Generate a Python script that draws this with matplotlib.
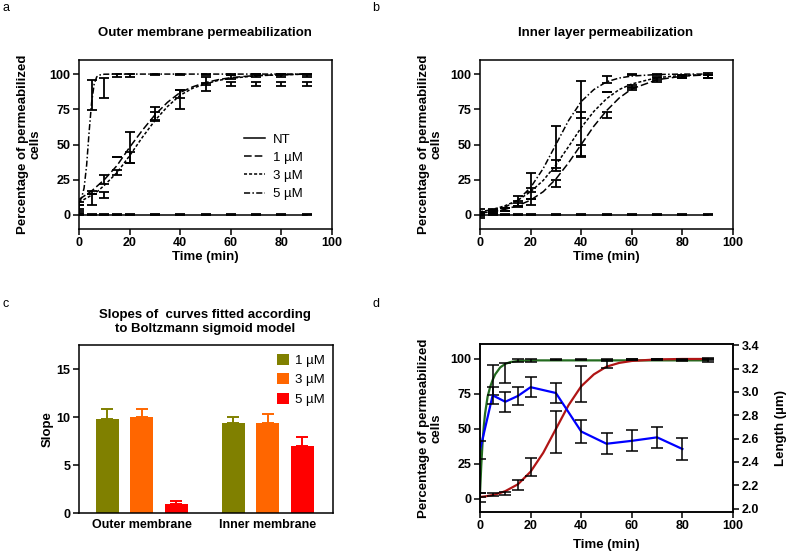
import matplotlib
matplotlib.use("Agg")
import matplotlib.pyplot as plt
from matplotlib.ticker import FormatStrFormatter

plt.rcParams['font.family'] = ['Liberation Sans', 'DejaVu Sans']
plt.rcParams['font.weight'] = 'bold'
plt.rcParams['axes.labelweight'] = 'bold'
plt.rcParams['font.size'] = 9

# Data

# sampling times (min)
t = [0, 5, 10, 15, 20, 30, 40, 50, 60, 70, 80, 90]

# a: outer membrane permeabilization, mean and error
outer_nt = [0, 0, 0, 0, 0, 0, 0, 0, 0, 0, 0, 0]
outer_nt_err = [0.4, 0.4, 0.4, 0.4, 0.4, 0.4, 0.4, 0.4, 0.4, 0.4, 0.4, 0.4]
outer_1 = [8, 16, 25, 41, 48, 72, 86, 95, 98, 99, 99, 99]
outer_1_err = [1, 1, 3, 0, 11, 4.5, 3, 3, 1.5, 1, 1, 1]
outer_3 = [5, 11, 14, 30, 41, 70, 82, 91, 93, 93, 93, 93]
outer_3_err = [2, 4, 2, 2, 4, 3, 7, 3, 1.5, 1.5, 1.5, 1.5]
outer_5 = [3, 85, 90, 99, 99, 99.5, 99.5, 99.5, 99.5, 99.5, 99.5, 99.5]
outer_5_err = [1.5, 10.5, 7, 1, 1, 0.5, 0.5, 0.5, 0.5, 0.5, 0.5, 0.5]

# b: inner layer permeabilization, mean and error
inner_nt = [0, 0, 0, 0, 0, 0, 0, 0, 0, 0, 0, 0]
inner_nt_err = [0.4, 0.4, 0.4, 0.4, 0.4, 0.4, 0.4, 0.4, 0.4, 0.4, 0.4, 0.4]
inner_1 = [0.5, 2, 4, 7, 9, 22, 46, 71, 90, 96, 98, 98.5]
inner_1_err = [1, 1, 1, 1.5, 2, 2.5, 4, 2, 1, 1.5, 1, 1]
inner_3 = [1, 2.5, 4, 8, 15, 35, 57, 87, 91, 97, 98, 98.5]
inner_3_err = [1, 1, 1, 2, 4, 4, 16, 0, 1, 1, 1, 1]
inner_5 = [1, 3, 4, 10, 23, 48, 82, 96, 99.5, 99.5, 99, 99]
inner_5_err = [3, 1, 1, 3.5, 6.5, 15, 13, 2.5, 0.5, 0.5, 0.5, 1.5]

# fitted sigmoid curves
t_fit = [0, 2.5, 5, 7.5, 10, 15, 20, 25, 30, 35, 40, 45, 50, 55, 60, 70, 80, 90]
outer_fit_1 = [11, 14, 17, 21, 25, 35, 48, 60, 71, 80, 87, 91, 94, 96, 97.5, 99, 99.5, 100]
outer_fit_3 = [9, 11.5, 14, 17, 21, 30, 42, 55, 67, 77, 85, 90, 93, 95.5, 97, 98.8, 99.5, 100]
inner_fit_1 = [1.4, 1.8, 2.4, 3.1, 4, 6.6, 10.5, 16.5, 25.5, 37, 50, 63, 74, 83, 89.5, 96, 98.5, 99.5]
inner_fit_3 = [2.3, 3, 4, 5.2, 6.6, 10.5, 16.5, 24.5, 35.5, 48.5, 62, 73.5, 82.5, 89, 93, 97.5, 99, 99.7]
inner_fit_5 = [1.4, 2, 2.8, 4, 5.6, 10.5, 19.5, 33, 50, 67, 80.5, 89, 94.5, 97.2, 98.6, 99.7, 100, 100]

t_fast = [0, 1, 2, 3, 4, 5, 6, 7, 8, 10, 15, 20, 30, 40, 50, 60, 70, 80, 90]
outer_fit_5 = [9, 12, 19, 35, 59, 80, 93, 98, 99.3, 99.9, 100, 100, 100, 100, 100, 100, 100, 100, 100]

# d: fast outer curve and cell length
t_green = [0, 0.5, 1, 1.5, 2, 3, 4, 5, 6, 8, 10, 12, 15, 20, 30, 40, 50, 60, 70, 80, 90]
green_fit = [4, 24, 40, 52, 61, 73, 80, 85, 89, 94, 96.5, 97.8, 98.6, 99, 99, 99, 99, 99, 99, 99, 99]
t_len = [0, 5, 10, 15, 20, 30, 40, 50, 60, 70, 80]
length = [2.50, 2.97, 2.915, 2.965, 3.04, 2.99, 2.66, 2.555, 2.58, 2.61, 2.51]
length_err = [0.075, 0.075, 0.085, 0.08, 0.085, 0.085, 0.095, 0.09, 0.09, 0.09, 0.095]

# c: slopes of Boltzmann fits
groups = ['Outer membrane', 'Inner membrane']
conc = ['1 µM', '3 µM', '5 µM']
slope_1 = [9.8, 9.4]
slope_1_err = [1.0, 0.6]
slope_3 = [10.0, 9.4]
slope_3_err = [0.8, 0.9]
slope_5 = [0.9, 7.0]
slope_5_err = [0.3, 0.9]
bar_colors = ['#808000', '#FF6600', '#FF0000']

W, H = 787, 557


def box(l, tp, r, b):
    return [l / W, 1 - b / H, (r - l) / W, (b - tp) / H]


def style(ax):
    for s in ax.spines.values():
        s.set_linewidth(1.1)
    ax.tick_params(width=1.1, length=4, pad=2, labelsize=9)


fig = plt.figure(figsize=(W / 100, H / 100), dpi=100)

ls_1 = (0, (5, 2))
ls_3 = (0, (2, 1.3))
ls_5 = (0, (4, 1.5, 1, 1.5))
eb = dict(fmt='none', ecolor='black', elinewidth=1.3, capsize=3.5, capthick=1.3)


def perm_panel(ax, fit1, fit3, fit5, t5, d_nt, e_nt, d1, e1, d3, e3, d5, e5, legend):
    ax.plot([t[0], t[-1]], [d_nt[0], d_nt[-1]], color='black', lw=1.1, label='NT')
    ax.plot(t_fit, fit1, color='black', lw=1.1, ls=ls_1, label='1 µM')
    ax.plot(t_fit, fit3, color='black', lw=1.1, ls=ls_3, label='3 µM')
    ax.plot(t5, fit5, color='black', lw=1.1, ls=ls_5, label='5 µM')
    for d, e in [(d_nt, e_nt), (d1, e1), (d3, e3), (d5, e5)]:
        ax.errorbar(t, d, yerr=e, **eb)
    ax.set_xlim(0, 100)
    ax.set_ylim(-10, 110)
    ax.set_xticks([0, 20, 40, 60, 80, 100])
    ax.set_yticks([0, 25, 50, 75, 100])
    ax.set_xlabel('Time (min)', fontsize=9.5)
    ax.set_ylabel('Percentage of permeabilized\ncells', fontsize=9.5, linespacing=1.05)
    ax.yaxis.set_label_coords(-0.15, 0.5)
    ax.xaxis.set_label_coords(0.5, -0.13)
    style(ax)
    if legend:
        ax.legend(loc='lower right', bbox_to_anchor=(0.93, 0.1), frameon=False,
                  prop={'weight': 'normal', 'size': 9.5}, handlelength=1.6,
                  labelspacing=0.45, handletextpad=0.6)


ax_a = fig.add_axes(box(79, 60, 332, 229))
perm_panel(ax_a, outer_fit_1, outer_fit_3, outer_fit_5, t_fast, outer_nt, outer_nt_err,
           outer_1, outer_1_err, outer_3, outer_3_err, outer_5, outer_5_err, True)

ax_b = fig.add_axes(box(480, 60, 733, 229))
perm_panel(ax_b, inner_fit_1, inner_fit_3, inner_fit_5, t_fit, inner_nt, inner_nt_err,
           inner_1, inner_1_err, inner_3, inner_3_err, inner_5, inner_5_err, False)

# c: bars
ax_c = fig.add_axes(box(79, 345, 333, 513))
step = 0.274
width = 0.183
for i, (vals, errs) in enumerate([(slope_1, slope_1_err), (slope_3, slope_3_err), (slope_5, slope_5_err)]):
    xs = [g + (i - 1) * step for g in range(len(groups))]
    ax_c.bar(xs, vals, width=width, color=bar_colors[i], label=conc[i], zorder=2)
    ax_c.errorbar(xs, vals, yerr=[[0] * len(vals), errs], fmt='none', ecolor=bar_colors[i],
                  elinewidth=1.4, capsize=4.5, capthick=1.4, zorder=1)
ax_c.set_xlim(-0.5, 1.52)
ax_c.set_ylim(0, 17.5)
ax_c.set_yticks([0, 5, 10, 15])
ax_c.set_xticks(range(len(groups)))
ax_c.set_xticklabels(groups)
ax_c.set_ylabel('Slope', fontsize=9.5)
ax_c.yaxis.set_label_coords(-0.1, 0.5)
style(ax_c)
ax_c.tick_params(axis='x', length=0, pad=4)
ax_c.legend(loc='upper right', bbox_to_anchor=(1.0, 1.0), frameon=False,
            prop={'weight': 'normal', 'size': 9.5}, handlelength=0.9, handleheight=0.9,
            labelspacing=0.5, handletextpad=0.45, borderaxespad=0.25)

# d: combined
ax_d = fig.add_axes(box(480, 344, 733, 512))
ax_d.plot(t_green, green_fit, color='#236b1f', lw=1.6, zorder=2)
ax_d.plot(t_fit, inner_fit_5, color='#b01515', lw=1.6, zorder=2)
ax_d.errorbar(t, outer_5, yerr=outer_5_err, fmt='none', ecolor='black', elinewidth=1.1,
              capsize=4, capthick=1.1, zorder=3)
ax_d.errorbar(t, inner_5, yerr=inner_5_err, fmt='none', ecolor='black', elinewidth=1.1,
              capsize=4, capthick=1.1, zorder=3)
ax_d.set_xlim(0, 100)
ax_d.set_ylim(-9.3, 110.7)
ax_d.set_xticks([0, 20, 40, 60, 80, 100])
ax_d.set_yticks([0, 25, 50, 75, 100])
ax_d.set_xlabel('Time (min)', fontsize=9.5)
ax_d.set_ylabel('Percentage of permeabilized\ncells', fontsize=9.5, linespacing=1.05)
ax_d.yaxis.set_label_coords(-0.15, 0.5)
ax_d.xaxis.set_label_coords(0.5, -0.16)
style(ax_d)

ax_r = ax_d.twinx()
ax_r.plot(t_len, length, color='#0000ff', lw=1.6, zorder=2)
ax_r.errorbar(t_len, length, yerr=length_err, fmt='none', ecolor='black', elinewidth=1.1,
              capsize=4, capthick=1.1, zorder=3)
ax_r.set_ylim(1.97, 3.41)
ax_r.set_yticks([2.0, 2.2, 2.4, 2.6, 2.8, 3.0, 3.2, 3.4])
ax_r.yaxis.set_major_formatter(FormatStrFormatter('%.1f'))
ax_r.set_ylabel('Length (µm)', fontsize=9.5)
ax_r.yaxis.set_label_coords(1.165, 0.5)
style(ax_r)

# titles and panel letters
fig.text(205 / W, 1 - 33 / H, 'Outer membrane permeabilization', ha='center', va='center', fontsize=9.5)
fig.text(606 / W, 1 - 33 / H, 'Inner layer permeabilization', ha='center', va='center', fontsize=9.5)
fig.text(205 / W, 1 - 322 / H, 'Slopes of  curves fitted according\nto Boltzmann sigmoid model',
         ha='center', va='center', fontsize=9.5, linespacing=1.3)
for lab, (x, y) in zip('abcd', [(6, 8), (376, 8), (6, 304), (376, 304)]):
    fig.text(x / W, 1 - y / H, lab, ha='center', va='center', fontsize=9, weight='normal')

fig.savefig('out.png', dpi=100)
